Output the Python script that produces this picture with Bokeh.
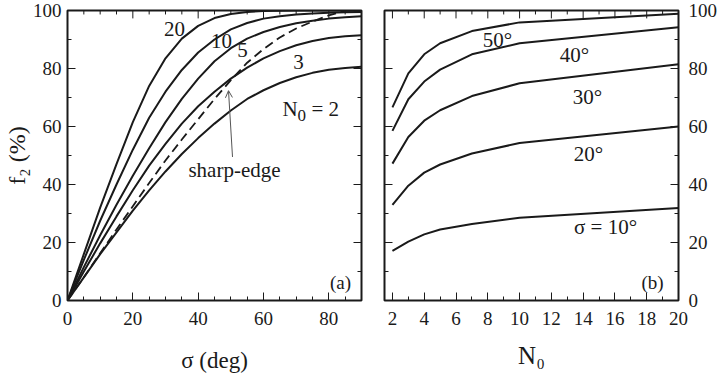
import math
from bokeh.plotting import figure
from bokeh.layouts import row
from bokeh.models import Range1d, LinearAxis, FixedTicker, Label, Arrow, OpenHead
from bokeh.embed import file_html
from bokeh.resources import INLINE

FONT = "Liberation Serif"
INK = "#1a1a1a"

# ---------------- panel (a) data ----------------
sigma = [0, 5, 10, 15, 20, 25, 30, 35, 40, 45, 50, 55, 60, 65, 70, 75, 80, 85, 90]
f2_N20 = [0, 16, 32, 47, 61.5, 74, 83.5, 90.3, 94.7, 97.4, 98.8, 99.5, 99.8, 99.9, 100, 100, 100, 100, 100]
f2_N10 = [0, 14, 27.5, 40, 52, 63, 72, 79.5, 85.5, 90, 93.5, 95.7, 97.2, 98.0, 98.6, 99.0, 99.2, 99.4, 99.5]
f2_N5 = [0, 11.5, 22.5, 33, 43, 52.5, 61.5, 69.5, 76.5, 82.5, 87, 90.3, 92.6, 94.3, 95.6, 96.5, 97.2, 97.7, 98]
f2_N3 = [0, 10, 19.7, 29, 38, 46.5, 54, 61, 67, 72, 76.5, 80.3, 83.5, 86, 88, 89.5, 90.5, 91.1, 91.5]
f2_N2 = [0, 8, 16, 23.5, 31, 38, 44.5, 50.5, 56, 61, 65.5, 69.5, 72.5, 75, 77, 78.5, 79.6, 80.2, 80.6]
f2_sharp = [0, 8, 16.3, 24.5, 32.5, 40.5, 48.3, 55.5, 62.5, 69.5, 76, 82, 86.7, 90.7, 93.8, 96.2, 98.3, 100, 100]

# ---------------- panel (b) data ----------------
N0 = [2, 3, 4, 5, 7, 10, 20]
f2_s10 = [17.1, 20.3, 22.8, 24.5, 26.4, 28.5, 31.9]
f2_s20 = [33.0, 39.6, 44.1, 46.9, 50.7, 54.3, 60.0]
f2_s30 = [47.2, 56.4, 62.0, 65.6, 70.5, 74.9, 81.5]
f2_s40 = [58.5, 69.4, 75.5, 79.6, 84.9, 88.7, 94.2]
f2_s50 = [66.6, 78.3, 84.9, 88.7, 92.9, 95.9, 98.9]

a_xticks = [0, 20, 40, 60, 80]
a_xminor = [5, 10, 15, 25, 30, 35, 45, 50, 55, 65, 70, 75, 85]
b_xticks = [2, 4, 6, 8, 10, 12, 14, 16, 18, 20]
b_xminor = [3, 5, 7, 9, 11, 13, 15, 17, 19]
yticks = [0, 20, 40, 60, 80, 100]
yminor = [10, 30, 50, 70, 90]

H = 375
FRAME_TOP = 10          # frame top (px)
FRAME_BOT = 303         # frame bottom (px)
FRAME_H = FRAME_BOT - FRAME_TOP
FRAME_W = 294
TICK_FS = "19px"
ANN_FS = "21px"
MAJ_LEN = 8
MIN_LEN = 4


def style_axis(ax, ticks, minor):
    ax.ticker = FixedTicker(ticks=ticks, minor_ticks=minor)
    ax.axis_line_color = None
    ax.major_tick_in = MAJ_LEN
    ax.major_tick_out = 0
    ax.minor_tick_in = MIN_LEN
    ax.minor_tick_out = 0
    ax.major_tick_line_color = INK
    ax.minor_tick_line_color = INK
    ax.major_label_text_font = FONT
    ax.major_label_text_font_style = "normal"
    ax.major_label_text_color = INK
    ax.major_label_text_font_size = TICK_FS
    ax.major_label_standoff = 9
    ax.axis_label_text_font = FONT
    ax.axis_label_text_font_style = "normal"
    ax.axis_label_text_color = INK


def make_fig(xr, width, bl, br):
    p = figure(width=width, height=H, x_range=xr, y_range=Range1d(0, 100),
               output_backend="svg", toolbar_location=None,
               min_border_left=bl, min_border_right=br,
               min_border_top=FRAME_TOP, min_border_bottom=H - FRAME_BOT,
               x_axis_location=None, y_axis_location=None)
    p.xgrid.visible = False
    p.ygrid.visible = False
    p.outline_line_color = INK
    p.outline_line_width = 2
    p.background_fill_color = "white"
    p.border_fill_color = "white"
    return p


def inner_ticks(p, xr, ticks_x, minor_x, side_x):
    """Inward ticks on the top edge and on one vertical edge, drawn from the tick lists."""
    ux = (xr.end - xr.start) / FRAME_W      # data units per pixel (x)
    uy = 100.0 / FRAME_H                    # data units per pixel (y)
    for ts, L in ((ticks_x, MAJ_LEN), (minor_x, MIN_LEN)):
        p.segment(x0=ts, y0=[100] * len(ts), x1=ts, y1=[100 - L * uy] * len(ts),
                  line_color=INK, line_width=1)
    xe = xr.end if side_x == "right" else xr.start
    sgn = -1 if side_x == "right" else 1
    for ts, L in ((yticks, MAJ_LEN), (yminor, MIN_LEN)):
        p.segment(x0=[xe] * len(ts), y0=ts, x1=[xe + sgn * L * ux] * len(ts), y1=ts,
                  line_color=INK, line_width=1)


def lab(p, x, y, text, size=ANN_FS, align="center", baseline="middle"):
    p.add_layout(Label(x=x, y=y, text=text, text_font=FONT, text_font_size=size,
                       text_color=INK, text_align=align, text_baseline=baseline))


# ================= panel (a) =================
xr_a = Range1d(0, 90)
pa = make_fig(xr_a, 366, 67, 5)
ax_b = LinearAxis(axis_label="σ (deg)"); style_axis(ax_b, a_xticks, a_xminor)
ax_b.major_label_standoff = 11
ax_b.axis_label_text_font_size = "23px"
ax_b.axis_label_standoff = 20
ay_l = LinearAxis(axis_label="f₂ (%)"); style_axis(ay_l, yticks, yminor)
ay_l.axis_label_text_font_size = "24px"
ay_l.axis_label_standoff = 0
ay_l.major_label_standoff = 6
pa.add_layout(ax_b, "below")
pa.add_layout(ay_l, "left")
inner_ticks(pa, xr_a, a_xticks, a_xminor, "right")

for ys in [f2_N20, f2_N10, f2_N5, f2_N3, f2_N2]:
    pa.line(sigma, ys, line_color=INK, line_width=2)
pa.line(sigma, f2_sharp, line_color=INK, line_width=1.8, line_dash="9 5")


def ax_(px):
    return (px - 67) / (FRAME_W / 90)


def ay_(py):
    return (FRAME_BOT - py) / (FRAME_H / 100)


lab(pa, ax_(174), ay_(29), "20")
lab(pa, ax_(221), ay_(41), "10")
lab(pa, ax_(242), ay_(50), "5")
lab(pa, ax_(298), ay_(62), "3")
lab(pa, ax_(282), ay_(110), "N", align="left", baseline="alphabetic")
lab(pa, ax_(297), ay_(116), "0", size="17px", align="left", baseline="alphabetic")
lab(pa, ax_(311), ay_(110), "= 2", align="left", baseline="alphabetic")
lab(pa, ax_(234), ay_(171), "sharp-edge")
lab(pa, ax_(340), ay_(285), "(a)", size="19px")
pa.add_layout(Arrow(end=OpenHead(size=7, line_color="#555555", line_width=1),
                    x_start=ax_(232), y_start=ay_(158), x_end=ax_(228), y_end=ay_(91),
                    line_color="#555555", line_width=1))

# ================= panel (b) =================
xr_b = Range1d(1.5, 20)
pb = make_fig(xr_b, 354, 18, 42)
bx_b = LinearAxis(axis_label="N₀"); style_axis(bx_b, b_xticks, b_xminor)
bx_b.major_label_standoff = 11
bx_b.axis_label_text_font_size = "25px"
bx_b.axis_label_standoff = 14
by_r = LinearAxis(); style_axis(by_r, yticks, yminor)
by_r.major_label_standoff = 10
pb.add_layout(bx_b, "below")
pb.add_layout(by_r, "right")
inner_ticks(pb, xr_b, b_xticks, b_xminor, "left")

for ys in [f2_s10, f2_s20, f2_s30, f2_s40, f2_s50]:
    pb.line(N0, ys, line_color=INK, line_width=2)


def bx_(px):
    return 1.5 + (px - 384) / (FRAME_W / 18.5)


lab(pb, bx_(497), ay_(40), "50°")
lab(pb, bx_(574), ay_(55), "40°")
lab(pb, bx_(587), ay_(97), "30°")
lab(pb, bx_(588), ay_(155), "20°")
lab(pb, bx_(605), ay_(229), "σ = 10°")
lab(pb, bx_(652), ay_(285), "(b)", size="19px")

layout = row(pa, pb)
open("out.html", "w").write(file_html(layout, INLINE))
